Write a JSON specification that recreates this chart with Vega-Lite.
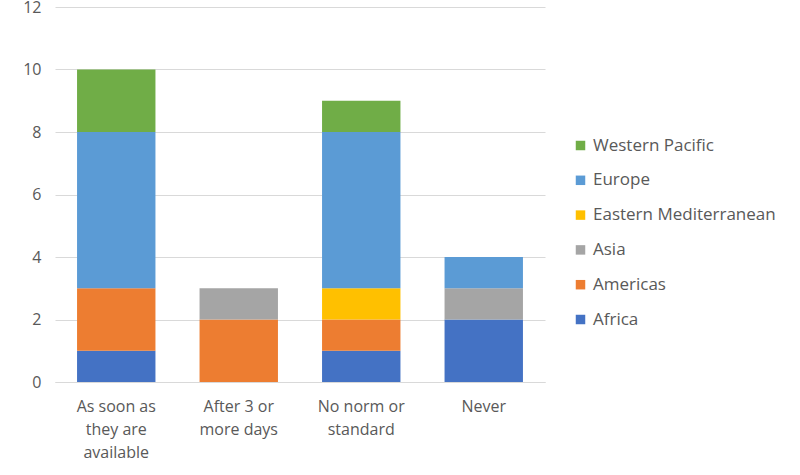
{
  "$schema": "https://vega.github.io/schema/vega-lite/v6.json",
  "width": 490,
  "height": 375,
  "autosize": "none",
  "padding": {"left": 55, "top": 7, "right": 255, "bottom": 93},
  "background": "white",
  "config": {
    "view": {"stroke": null},
    "font": "Open Sans",
    "text": {"font": "Open Sans"}
  },
  "data": {
    "values": [
      {"category": "As soon as they are available", "region": "Africa", "rank": 1, "count": 1},
      {"category": "As soon as they are available", "region": "Americas", "rank": 2, "count": 2},
      {"category": "As soon as they are available", "region": "Europe", "rank": 5, "count": 5},
      {"category": "As soon as they are available", "region": "Western Pacific", "rank": 6, "count": 2},
      {"category": "After 3 or more days", "region": "Americas", "rank": 2, "count": 2},
      {"category": "After 3 or more days", "region": "Asia", "rank": 3, "count": 1},
      {"category": "No norm or standard", "region": "Africa", "rank": 1, "count": 1},
      {"category": "No norm or standard", "region": "Americas", "rank": 2, "count": 1},
      {"category": "No norm or standard", "region": "Eastern Mediterranean", "rank": 4, "count": 1},
      {"category": "No norm or standard", "region": "Europe", "rank": 5, "count": 5},
      {"category": "No norm or standard", "region": "Western Pacific", "rank": 6, "count": 1},
      {"category": "Never", "region": "Africa", "rank": 1, "count": 2},
      {"category": "Never", "region": "Asia", "rank": 3, "count": 1},
      {"category": "Never", "region": "Europe", "rank": 5, "count": 1}
    ]
  },
  "mark": {"type": "bar"},
  "encoding": {
    "x": {
      "field": "category",
      "type": "nominal",
      "sort": ["As soon as they are available", "After 3 or more days", "No norm or standard", "Never"],
      "scale": {"paddingInner": 0.36, "paddingOuter": 0.18},
      "title": null,
      "axis": {
        "labelAngle": 0,
        "labelFontSize": 16,
        "labelColor": "#595959",
        "labelPadding": 16,
        "labelLineHeight": 23,
        "ticks": false,
        "domainColor": "#d9d9d9",
        "labelExpr": "datum.value == 'As soon as they are available' ? ['As soon as', 'they are', 'available'] : datum.value == 'After 3 or more days' ? ['After 3 or', 'more days'] : datum.value == 'No norm or standard' ? ['No norm or', 'standard'] : datum.value"
      }
    },
    "y": {
      "field": "count",
      "type": "quantitative",
      "stack": "zero",
      "scale": {"domain": [0, 12]},
      "title": null,
      "axis": {
        "values": [0, 2, 4, 6, 8, 10, 12],
        "labelFontSize": 16,
        "labelColor": "#595959",
        "labelPadding": 14,
        "ticks": false,
        "domain": false,
        "gridColor": "#d9d9d9"
      }
    },
    "color": {
      "field": "region",
      "type": "nominal",
      "scale": {
        "domain": ["Western Pacific", "Europe", "Eastern Mediterranean", "Asia", "Americas", "Africa"],
        "range": ["#70AD47", "#5B9BD5", "#FFC000", "#A5A5A5", "#ED7D31", "#4472C4"]
      },
      "legend": {
        "title": null,
        "orient": "none",
        "legendX": 517,
        "legendY": 130,
        "padding": 0,
        "symbolType": "square",
        "symbolSize": 90,
        "symbolStrokeWidth": 0,
        "labelFontSize": 17,
        "labelColor": "#595959",
        "labelOffset": 4,
        "rowPadding": 16.8,
        "labelLimit": 300
      }
    },
    "order": {"field": "rank", "type": "quantitative", "sort": "ascending"}
  }
}
